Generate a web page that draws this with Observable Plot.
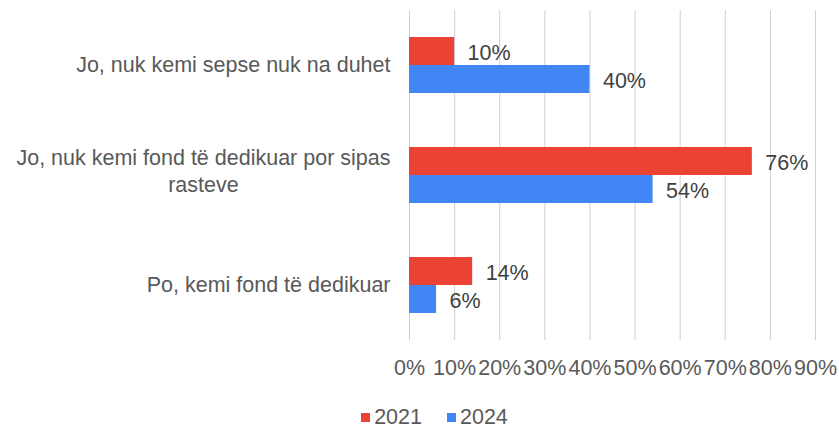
<!DOCTYPE html>
<html>
<head>
<meta charset="utf-8">
<script src="https://cdn.jsdelivr.net/npm/d3@7"></script>
<script src="https://cdn.jsdelivr.net/npm/@observablehq/plot@0.6"></script>
<style>
  html, body { margin: 0; padding: 0; background: #fff; }
  #chart { width: 839px; font-family: "Liberation Sans", Arial, sans-serif; }
  .lg-swatches { justify-content: center !important; font-family: "Liberation Sans", Arial, sans-serif !important; font-size: 21.5px !important; color: #595959 !important; margin: 0 !important; padding-top: 6px; padding-left: 30px; }
  .lg-swatch { margin-right: 25px !important; font-size: 21.5px !important; }
  .lg-swatch:last-child { margin-right: 0 !important; }
  .lg-swatch > svg { margin-right: 4px !important; }
</style>
</head>
<body>
<div id="chart"></div>
<script>
const categories = [
  "Jo, nuk kemi sepse nuk na duhet",
  "Jo, nuk kemi fond të dedikuar por sipas\nrasteve",
  "Po, kemi fond të dedikuar"
];
const years = ["2021", "2024"];
const values2021 = [0.10, 0.76, 0.14];
const values2024 = [0.40, 0.54, 0.06];
const xTicks = [0, 0.1, 0.2, 0.3, 0.4, 0.5, 0.6, 0.7, 0.8, 0.9];
const colors = ["#EA4335", "#4285F4"];

const data = [];
categories.forEach((c, i) => {
  data.push({category: c, year: years[0], value: values2021[i]});
  data.push({category: c, year: years[1], value: values2024[i]});
});

const pct = d3.format(".0%");

const chart = Plot.plot({
  width: 839,
  height: 395,
  marginLeft: 409,
  marginRight: 24,
  marginTop: 10,
  marginBottom: 55,
  style: {fontFamily: "'Liberation Sans', Arial, sans-serif", fontSize: "21.5px", color: "#595959", background: "#fff"},
  x: {domain: [0, 0.9], ticks: xTicks, tickFormat: pct, tickSize: 0, tickPadding: 19, label: null},
  fy: {domain: categories, padding: 0, label: null, axis: "left", tickSize: 0, tickPadding: 19},
  y: {domain: years, paddingInner: 0, paddingOuter: 0.9, axis: null},
  color: {domain: years, range: colors},
  marks: [
    Plot.gridX(xTicks, {stroke: "#d0d0d0", strokeOpacity: 1, strokeWidth: 1}),
    Plot.barX(data, {fy: "category", y: "year", x: "value", fill: "year"}),
    Plot.text(data, {fy: "category", y: "year", x: "value", text: d => pct(d.value), textAnchor: "start", dx: 13, dy: 2, fill: "#404040", fontSize: 21.5})
  ]
});

const host = document.getElementById("chart");
host.appendChild(chart);

// center lines of multi-line category labels (like the original) and widen line spacing
chart.querySelectorAll("text").forEach(t => {
  const spans = t.querySelectorAll("tspan");
  if (spans.length > 1) {
    let maxW = 0;
    spans.forEach(s => { maxW = Math.max(maxW, s.getComputedTextLength()); });
    t.setAttribute("text-anchor", "middle");
    const lh = 1.27;
    spans.forEach((s, i) => {
      s.setAttribute("x", -maxW / 2);
      s.setAttribute("dy", i === 0 ? (0.32 - lh * (spans.length - 1) / 2) + "em" : lh + "em");
    });
  }
});

const legend = Plot.legend({
  color: {domain: years, range: colors},
  legend: "swatches",
  swatchSize: 9,
  className: "lg"
});
host.appendChild(legend);
</script>
</body>
</html>
